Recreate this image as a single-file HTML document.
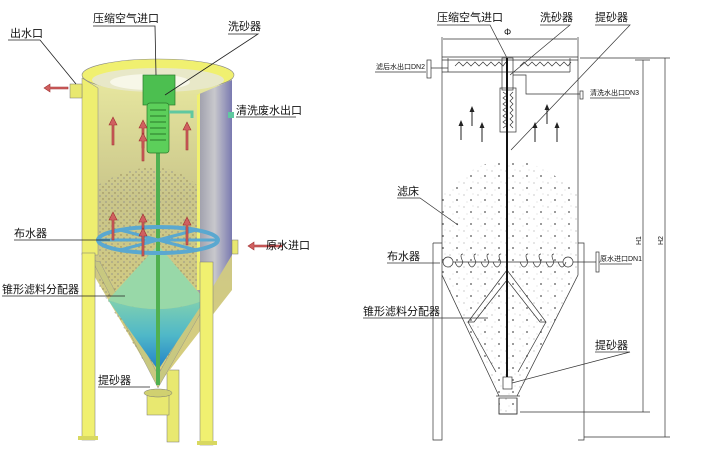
<!DOCTYPE html>
<html><head><meta charset="utf-8"><style>
html,body{margin:0;padding:0;background:#fff;}
svg{display:block;}
text{font-family:"Liberation Sans","Noto Sans CJK SC",sans-serif;}
</style></head><body>
<svg width="702" height="458" viewBox="0 0 702 458" xmlns="http://www.w3.org/2000/svg">
<defs>
<linearGradient id="inner" x1="0" y1="0" x2="0" y2="1">
<stop offset="0" stop-color="#e8e8a0"/><stop offset="0.4" stop-color="#c9c58a"/><stop offset="1" stop-color="#d8cf7c"/></linearGradient>
<linearGradient id="rshell" x1="0" x2="1"><stop offset="0" stop-color="#9a9aa8"/><stop offset="0.5" stop-color="#c8c8cc"/><stop offset="1" stop-color="#7a7ab0"/></linearGradient>
<linearGradient id="cone" x1="0" y1="0" x2="0" y2="1"><stop offset="0" stop-color="#80d0b0"/><stop offset="0.5" stop-color="#50b8c8"/><stop offset="1" stop-color="#2080c8"/></linearGradient>
<pattern id="sand" width="6" height="6" patternUnits="userSpaceOnUse"><circle cx="1" cy="1" r="0.7" fill="#8a7a50"/><circle cx="4" cy="4" r="0.6" fill="#6a6a8a"/></pattern>
<pattern id="dots" width="14" height="12" patternUnits="userSpaceOnUse"><circle cx="2" cy="3" r="0.5" fill="#777"/><circle cx="9" cy="8" r="0.9" fill="#555"/><circle cx="11" cy="2" r="0.4" fill="#999"/><circle cx="5" cy="10" r="0.4" fill="#999"/></pattern>
<g id="ua"><path d="M0,0 L4,8 L1,8 L1,28 L-1,28 L-1,8 L-4,8Z"/></g>
<g id="ba"><path d="M0,0 L2.5,6 L0.5,6 L0.5,20 L-0.5,20 L-0.5,6 L-2.5,6Z" fill="#222"/></g>
</defs>

<!-- ============ LEFT 3D ============ -->
<rect x="167" y="370" width="12" height="72" fill="#e8e870" stroke="#777" stroke-width="0.5"/>
<path d="M82,75 L82,255 L158,385 L232,290 L232,75 Z" fill="url(#inner)"/>
<path d="M98,185 Q158,150 197,185 L197,290 L158,385 L98,285 Z" fill="url(#sand)" opacity="0.9"/>
<ellipse cx="158" cy="75" rx="76" ry="16" fill="#f0f070" stroke="#888" stroke-width="0.6"/>
<ellipse cx="158" cy="80" rx="66" ry="12" fill="#e8e8c8"/>
<ellipse cx="150" cy="82" rx="40" ry="8" fill="#fafaf0" opacity="0.8"/>
<path d="M197,95 L232,80 L232,255 L205,300 L197,290 Z" fill="url(#rshell)"/>
<path d="M197,95 L200,93 L200,290 L197,290Z" fill="#f0f070"/>
<path d="M82,78 L98,88 L98,255 L82,255 Z" fill="#eeee70" stroke="#888" stroke-width="0.5"/>
<path d="M92,260 L158,388 L208,300 L200,300 L158,375 L100,262Z" fill="#c8c880" stroke="#888" stroke-width="0.4"/>
<path d="M158,245 L108,300 Q158,318 205,300 Z" fill="#98d8a8"/>
<path d="M108,300 Q158,318 205,300 L158,370 Z" fill="url(#cone)"/>
<rect x="156" y="75" width="4" height="310" fill="#50b050"/>
<ellipse cx="158" cy="240" rx="60" ry="13" fill="none" stroke="#5aa8d0" stroke-width="4"/>
<path d="M100,240 L216,240 M120,230 L196,250 M196,230 L120,250" stroke="#5aa8d0" stroke-width="3"/>
<rect x="143" y="75" width="32" height="30" fill="#4cbf50" stroke="#2a7a2a" stroke-width="0.7"/>
<rect x="147" y="103" width="22" height="50" rx="3" fill="#5ccf5a" stroke="#2a7a2a" stroke-width="0.7"/>
<path d="M150,110 h16 M150,116 h16 M150,122 h16 M150,128 h16 M150,134 h16 M150,140 h16" stroke="#2a7a2a" stroke-width="1"/>
<path d="M169,112 L192,112 L192,118" fill="none" stroke="#60c8a0" stroke-width="3"/>
<rect x="147" y="393" width="22" height="22" fill="#e8e870" stroke="#777" stroke-width="0.5"/>
<ellipse cx="158" cy="393" rx="14" ry="4" fill="#d0d070" stroke="#777" stroke-width="0.5"/>
<rect x="82" y="253" width="13" height="187" fill="#f0f070" stroke="#777" stroke-width="0.5"/>
<rect x="78" y="436" width="20" height="4" fill="#d8d860"/>
<rect x="200" y="262" width="13" height="183" fill="#f0f070" stroke="#777" stroke-width="0.5"/>
<rect x="197" y="441" width="20" height="4" fill="#d8d860"/>
<rect x="70" y="84" width="12" height="14" fill="#e8e870" stroke="#777" stroke-width="0.5"/>
<rect x="228" y="112" width="6" height="6" fill="#60c8a0"/>
<rect x="232" y="240" width="6" height="14" fill="#e8e870" stroke="#777" stroke-width="0.5"/>
<g fill="#d06060" stroke="#a03030" stroke-width="0.6">
<path d="M44,88 L50,84 L50,87 L68,87 L68,89 L50,89 L50,92Z"/>
<path d="M248,246 L254,242 L254,245 L282,245 L282,247 L254,247 L254,250Z"/>
<use href="#ua" x="113" y="117"/><use href="#ua" x="143" y="120"/><use href="#ua" x="143" y="133"/><use href="#ua" x="187" y="122"/>
<use href="#ua" x="113" y="212"/><use href="#ua" x="143" y="214"/><use href="#ua" x="143" y="228"/><use href="#ua" x="187" y="217"/>
</g>
<g stroke="#222" stroke-width="0.8" fill="none">
<path d="M8,40 L40,40 L76,84"/>
<path d="M93,26 L155,26 L156,75"/>
<path d="M228,34 L258,34 L165,95"/>
<path d="M236,117 L296,117"/>
<path d="M14,240 L110,240"/>
<path d="M2,296 L125,296"/>
<path d="M98,387 L150,387"/>
</g>
<g font-size="11" fill="#111">
<text x="10" y="37">出水口</text>
<text x="93" y="22">压缩空气进口</text>
<text x="228" y="30">洗砂器</text>
<text x="236" y="114">清洗废水出口</text>
<text x="14" y="237">布水器</text>
<text x="266" y="249">原水进口</text>
<text x="2" y="293">锥形滤料分配器</text>
<text x="98" y="384">提砂器</text>
</g>

<!-- ============ RIGHT 2D ============ -->
<g stroke="#333" stroke-width="0.7" fill="none">
<path d="M442,195 Q507,125 578,195 L578,275 L517,396 L499,396 L442,275Z" fill="url(#dots)" stroke="none"/>
<path d="M442,37 L442,275 L499,396 M578,37 L578,275 L517,396"/>
<line x1="442" y1="57" x2="578" y2="57"/>
<line x1="442" y1="60" x2="578" y2="60"/>
<line x1="442" y1="72" x2="570" y2="72"/>
<path d="M448,72 L448,58 M570,72 L570,58"/>
<path d="M455,66 l4,-4 l4,4 l4,-4 l4,4 l4,-4 l4,4 l4,-4 l4,4 l4,-4 l4,4 l4,-4 l4,4 l3,-4"/>
<path d="M520,66 l4,-4 l4,4 l4,-4 l4,4 l4,-4 l4,4 l4,-4 l4,4 l4,-4 l4,4 l4,-4 l4,4 l3,-4"/>
<rect x="427" y="60" width="4" height="18" fill="#fff"/>
<path d="M431,68 L448,68"/>
<rect x="502" y="58" width="11" height="32"/>
<rect x="500" y="88" width="16" height="44"/>
<path d="M503,92 l4,3 l-4,3 l4,3 l-4,3 l4,3 l-4,3 l4,3 l-4,3 l4,3 l-4,3 l4,3 l-4,3 M513,92 l-3,3 l3,3 l-3,3 l3,3 l-3,3 l3,3 l-3,3 l3,3 l-3,3 l3,3 l-3,3 l3,3"/>
<path d="M513,75 L526,75 L526,94 L580,94"/>
<rect x="580" y="91" width="3" height="8"/>
<line x1="442" y1="262" x2="600" y2="262"/>
<circle cx="448" cy="262" r="5" fill="#fff"/>
<circle cx="568" cy="262" r="5" fill="#fff"/>
<path d="M455,262 q4,10 8,0 q-4,-8 0,-8 M468,262 q4,10 8,0 q-4,-8 0,-8 M481,262 q4,10 8,0 q-4,-8 0,-8 M493,262 q4,10 8,0 q-4,-8 0,-8"/>
<path d="M520,262 q4,10 8,0 q-4,-8 0,-8 M533,262 q4,10 8,0 q-4,-8 0,-8 M546,262 q4,10 8,0 q-4,-8 0,-8 M558,262 q4,10 8,0"/>
<rect x="596" y="252" width="3" height="20" fill="#fff"/>
<path d="M507,270 L468,322 L474,322 L507,280 L540,322 L546,322 Z"/>
<path d="M468,322 L496,372 M546,322 L518,372"/>
<rect x="503" y="377" width="9" height="12" fill="#fff"/>
<rect x="499" y="398" width="18" height="16" fill="url(#dots)"/>
<path d="M499,398 L499,414 L517,414 L517,398 M496,396 L520,396"/>
<path d="M433,243 L442,243 M433,243 L433,440 L442,440 L442,275 M578,243 L584,243 L584,440 L578,440"/>
<path d="M443,39 L577,39"/>
<path d="M643,60 L643,412 M635,60 L650,60 M520,412 L650,412"/>
<path d="M665,58 L665,437 M580,58 L670,58 M584,437 L670,437"/>
<path d="M437,25 L490,25 L507,58"/>
<path d="M540,25 L570,25 L510,75"/>
<path d="M595,25 L630,25 L511,150"/>
<path d="M397,198 L420,198 L458,225"/>
<path d="M387,263 L440,263"/>
<path d="M363,318 L488,318"/>
<path d="M595,352 L630,352 L512,383"/>
<path d="M375,72 L426,72 M590,98 L630,98 M600,264 L632,264"/>
</g>
<line x1="507" y1="58" x2="507" y2="377" stroke="#111" stroke-width="2"/>
<use href="#ba" x="461" y="120"/><use href="#ba" x="472" y="106"/><use href="#ba" x="482" y="122"/>
<use href="#ba" x="535" y="122"/><use href="#ba" x="547" y="104"/><use href="#ba" x="557" y="122"/>
<g font-size="11" fill="#111">
<text x="437" y="21">压缩空气进口</text>
<text x="540" y="21">洗砂器</text>
<text x="595" y="21">提砂器</text>
<text x="504" y="35" font-size="9">Φ</text>
<text x="397" y="195">滤床</text>
<text x="387" y="260">布水器</text>
<text x="363" y="315">锥形滤料分配器</text>
<text x="595" y="349">提砂器</text>
</g>
<g font-size="7" fill="#111">
<text x="376" y="69">滤后水出口DN2</text>
<text x="590" y="95">清洗水出口DN3</text>
<text x="600" y="261">原水进口DN1</text>
<text transform="translate(641,245) rotate(-90)">H1</text>
<text transform="translate(663,245) rotate(-90)">H2</text>
</g>
</svg>
</body></html>
